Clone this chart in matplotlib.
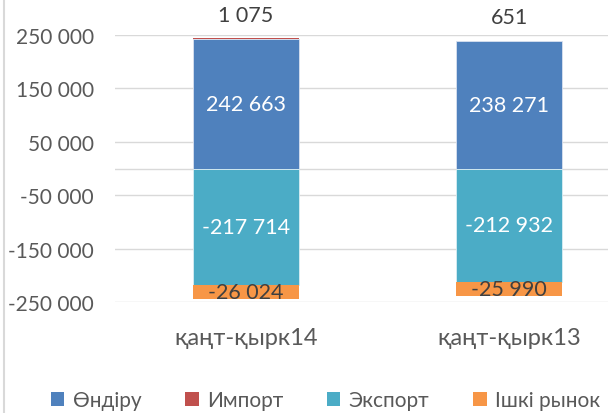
import matplotlib.pyplot as plt
from matplotlib.lines import Line2D
from matplotlib.patches import Patch

plt.rcParams["font.family"] = ["Lato", "DejaVu Sans"]

categories = ["қаңт-қырк14", "қаңт-қырк13"]
series_names = ["Өндіру", "Импорт", "Экспорт", "Ішкі рынок"]
production = [242663, 238271]
imports = [1075, 651]
exports = [-217714, -212932]
domestic = [-26024, -25990]

colors = ["#4F81BD", "#C0504D", "#4BACC6", "#F79646"]
text_grey = "#595959"
label_size = 15.5


def fmt(v):
    return f"{v:,}".replace(",", " ")


fig = plt.figure(figsize=(6.08, 4.14), dpi=100)
ax = fig.add_axes([114.5 / 608, 1 - 303 / 414, 526 / 608, 267 / 414])

x = list(range(len(categories)))
width = 0.4

# positive stack
ax.bar(x, production, width, color=colors[0], edgecolor="#D9E1F0", linewidth=0.6, zorder=3)
ax.bar(x, imports, width, bottom=production, color=colors[1], zorder=3)
# negative stack
ax.bar(x, exports, width, color=colors[2], edgecolor="#D9EEF3", linewidth=0.6, zorder=3)
ax.bar(x, domestic, width, bottom=exports, color=colors[3], zorder=3)

for i in x:
    ax.text(i, production[i] / 2, fmt(production[i]), ha="center", va="center",
            color="white", fontsize=label_size, zorder=4)
    ax.text(i, exports[i] / 2, fmt(exports[i]), ha="center", va="center",
            color="white", fontsize=label_size, zorder=4)
    ax.text(i, exports[i] + domestic[i] / 2, fmt(domestic[i]), ha="center", va="center",
            color="#404040", fontsize=label_size, zorder=4)
    ax.annotate(fmt(imports[i]), (i, production[i] + imports[i]), xytext=(0, 17),
                textcoords="offset points", ha="center", va="center",
                color="#404040", fontsize=label_size)

ax.set_xlim(-0.5, 1.5)
ax.set_ylim(-250000, 250000)
yticks = [250000, 150000, 50000, -50000, -150000, -250000]
ax.set_yticks(yticks)
ax.set_yticklabels([fmt(v) for v in yticks])
ax.set_xticks(x)
ax.set_xticklabels(categories)
ax.tick_params(axis="y", length=0, pad=15, labelsize=15, labelcolor=text_grey)
ax.tick_params(axis="x", length=0, pad=18, labelsize=17, labelcolor=text_grey)

for v in yticks + [0]:
    ax.axhline(v, color="#D9D9D9", linewidth=1, zorder=1)
for s in ax.spines.values():
    s.set_visible(False)

# chart border on the left
fig.add_artist(Line2D([3.5 / 608, 3.5 / 608], [0, 1], color="#D9D9D9", linewidth=1.5))

handles = [Patch(facecolor=c) for c in colors]
fig.legend(handles, series_names, loc="center left", bbox_to_anchor=(32 / 608, 1 - 401 / 414),
           ncol=4, frameon=False, fontsize=15, labelcolor=text_grey,
           handlelength=0.65, handleheight=0.65, handletextpad=0.4, columnspacing=2.1)

fig.savefig("out.png", dpi=100)
